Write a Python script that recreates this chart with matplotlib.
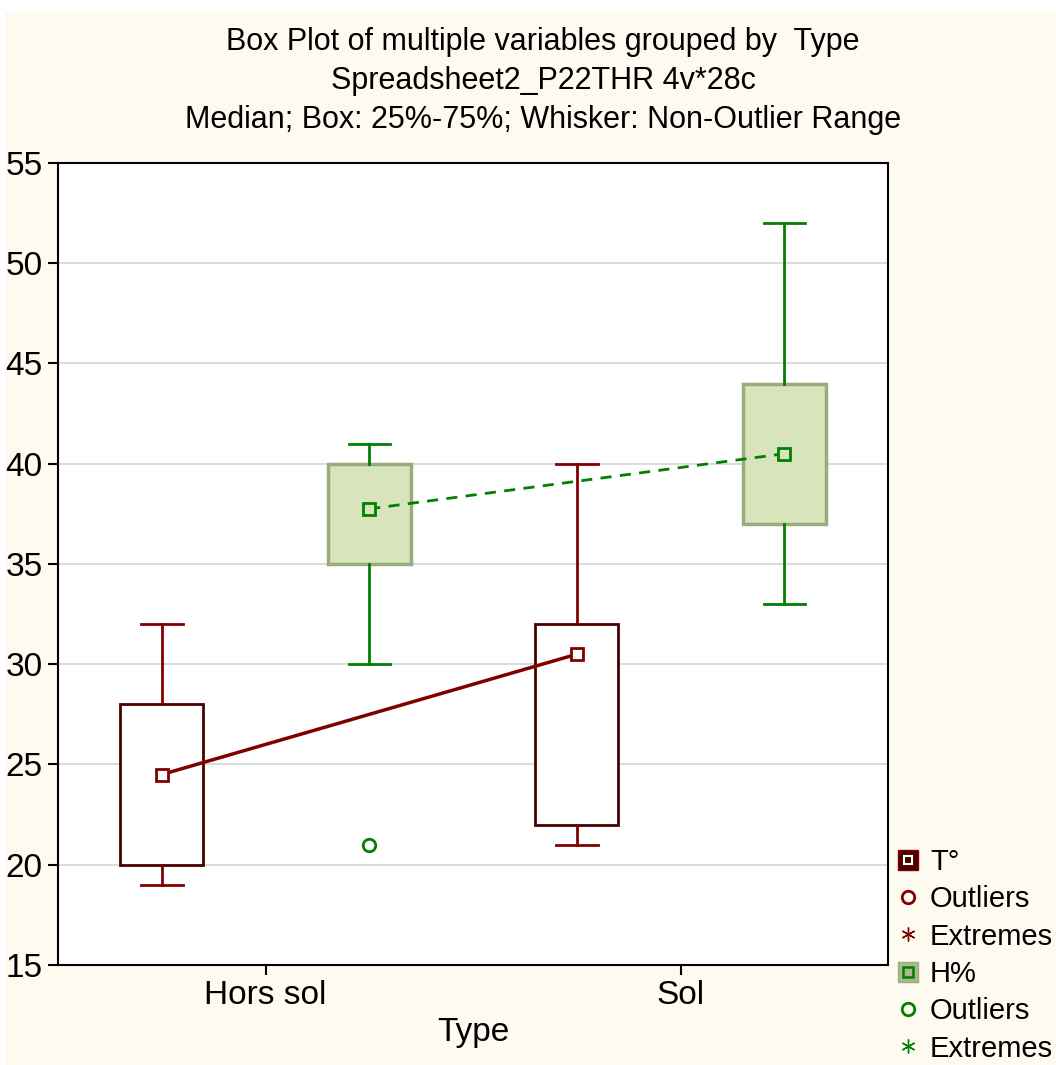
import numpy as np
import matplotlib
matplotlib.use("Agg")
import matplotlib.pyplot as plt
from matplotlib.lines import Line2D
from matplotlib.patches import Patch, Rectangle

plt.rcParams['font.family'] = ['Liberation Sans', 'DejaVu Sans']

# summary statistics per group (Hors sol, Sol)
groups = ["Hors sol", "Sol"]
t_med = [24.5, 30.5]
t_q1 = [20.0, 22.0]
t_q3 = [28.0, 32.0]
t_lo = [19.0, 21.0]
t_hi = [32.0, 40.0]
t_out = [[], []]

h_med = [37.75, 40.5]
h_q1 = [35.0, 37.0]
h_q3 = [40.0, 44.0]
h_lo = [30.0, 33.0]
h_hi = [41.0, 52.0]
h_out = [[21.0], []]

red = "#800000"
red_dark = "#4a0000"
green = "#008000"
green_fill = "#d8e4bc"
green_edge = "#9aab7c"
cream = "#fffaf0"

fig = plt.figure(figsize=(10.56, 10.65), dpi=100, facecolor="white")
fig.patches.append(Rectangle((0.005, 0), 0.995, 1053 / 1065, transform=fig.transFigure,
                             facecolor=cream, edgecolor="none", zorder=-10))
ax = fig.add_axes([58 / 1056, 1 - 965 / 1065, 830 / 1056, 802 / 1065])
ax.set_facecolor("white")

x = np.arange(1, len(groups) + 1)
off = 0.25


def stats(med, q1, q3, lo, hi, out):
    return [dict(med=m, q1=a, q3=b, whislo=l, whishi=h, fliers=o)
            for m, a, b, l, h, o in zip(med, q1, q3, lo, hi, out)]


ax.bxp(stats(t_med, t_q1, t_q3, t_lo, t_hi, t_out), positions=x - off, widths=0.2,
       capwidths=0.1, patch_artist=True, manage_ticks=False,
       boxprops=dict(facecolor="white", edgecolor=red_dark, linewidth=2),
       whiskerprops=dict(color=red, linewidth=2), capprops=dict(color=red, linewidth=2),
       medianprops=dict(linestyle="none"),
       flierprops=dict(marker="o", mfc="none", mec=red, ms=9, mew=2))
ax.bxp(stats(h_med, h_q1, h_q3, h_lo, h_hi, h_out), positions=x + off, widths=0.2,
       capwidths=0.1, patch_artist=True, manage_ticks=False,
       boxprops=dict(facecolor=green_fill, edgecolor=green_edge, linewidth=2.5),
       whiskerprops=dict(color=green, linewidth=2), capprops=dict(color=green, linewidth=2),
       medianprops=dict(linestyle="none"),
       flierprops=dict(marker="o", mfc="none", mec=green, ms=9, mew=2))

# medians joined across groups
ax.plot(x - off, t_med, color=red, lw=2.5, marker="s", ms=9, mfc="white", mec=red, mew=2, zorder=5)
ax.plot(x + off, h_med, color=green, lw=2, ls=(0, (4, 3)), marker="s", ms=9, mfc=green_fill,
        mec=green, mew=2, zorder=5)

ax.set_xlim(0.5, 2.5)
ax.set_ylim(15, 55)
ax.set_yticks(np.arange(15, 56, 5))
ax.set_xticks(x)
ax.set_xticklabels(groups)
ax.yaxis.grid(True, color="#d4d4d4", lw=1.2)
ax.set_axisbelow(True)
ax.tick_params(labelsize=24, length=7, width=1.5, direction="out", pad=4)
for s in ax.spines.values():
    s.set_linewidth(1.5)
ax.set_xlabel("Type", fontsize=24, labelpad=4)

title = ["Box Plot of multiple variables grouped by  Type",
         "Spreadsheet2_P22THR 4v*28c",
         "Median; Box: 25%-75%; Whisker: Non-Outlier Range"]
for i, line in enumerate(title):
    fig.text(543 / 1056, 1 - (42 + 39 * i) / 1065, line, ha="center", va="center", fontsize=22)

sq_t = Line2D([], [], ls="none", marker="s", ms=6, mfc="none", mec="white", mew=1.5)
sq_h = Line2D([], [], ls="none", marker="s", ms=7, mfc="none", mec=green, mew=1.8)
handles = [
    (Patch(facecolor=red_dark, edgecolor=red), sq_t),
    Line2D([], [], ls="none", marker="o", mfc="none", mec=red, ms=9, mew=2),
    Line2D([], [], ls="none", marker=(6, 2, 0), color=red, ms=10, mew=1),
    (Patch(facecolor="#a9b98c", edgecolor=green_edge), sq_h),
    Line2D([], [], ls="none", marker="o", mfc="none", mec=green, ms=9, mew=2),
    Line2D([], [], ls="none", marker=(6, 2, 0), color=green, ms=10, mew=1),
]
labels = ["T°", "Outliers", "Extremes", "H%", "Outliers", "Extremes"]
fig.legend(handles, labels, loc="upper left", bbox_to_anchor=(898 / 1056, 1 - 848 / 1065),
           frameon=False, fontsize=21, handlelength=0.7, handletextpad=0.4,
           labelspacing=0.32, borderpad=0, borderaxespad=0)

fig.savefig("out.png", dpi=100, facecolor=fig.get_facecolor())
